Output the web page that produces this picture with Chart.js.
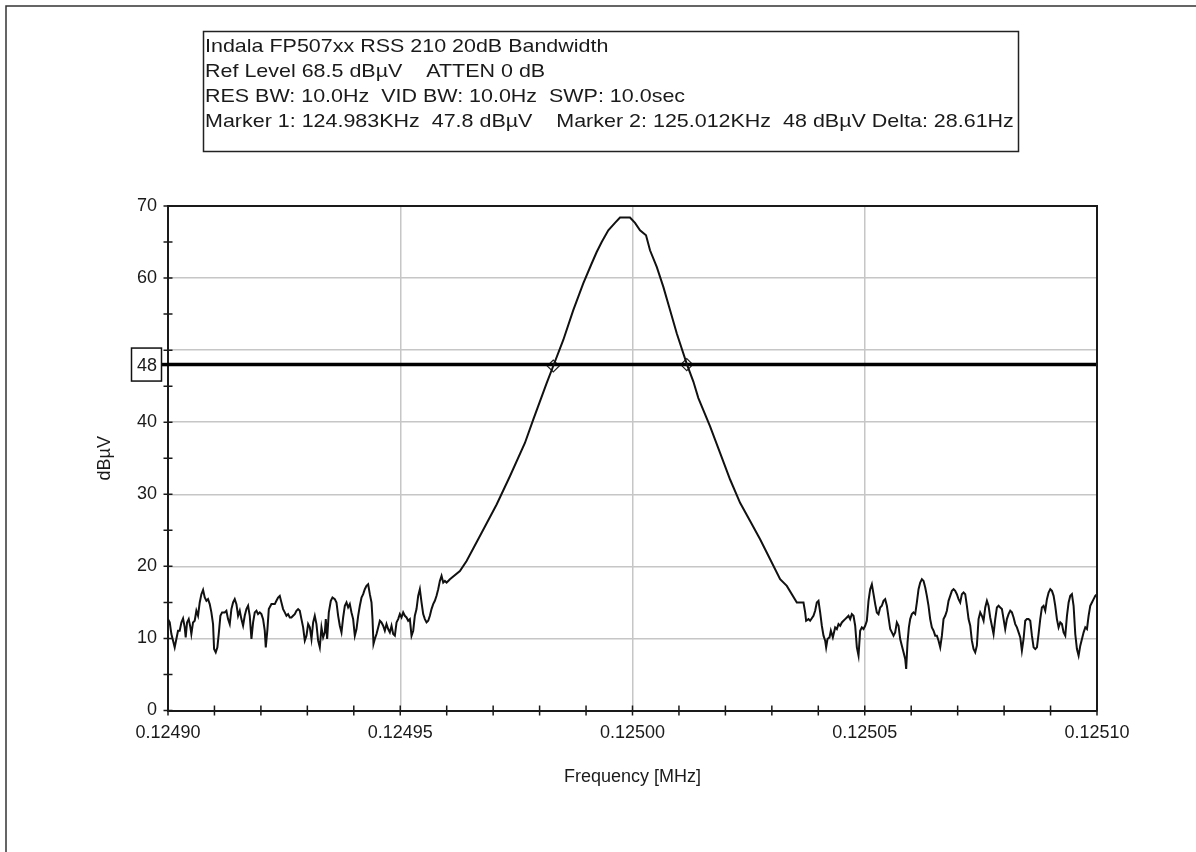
<!DOCTYPE html>
<html><head><meta charset="utf-8">
<script src="https://cdn.jsdelivr.net/npm/chart.js@4.4.1/dist/chart.umd.min.js"></script>
<style>html,body{margin:0;padding:0;background:#fff;}#wrap{position:relative;width:1196px;height:852px;}</style>
</head><body><div id="wrap"><canvas id="c" width="1196" height="852"></canvas></div>
<script>
const startHz = 124900;
const titleLines = [
  "Indala FP507xx RSS 210 20dB Bandwidth",
  "Ref Level 68.5 dB\u00b5V    ATTEN 0 dB",
  "RES BW: 10.0Hz  VID BW: 10.0Hz  SWP: 10.0sec",
  "Marker 1: 124.983KHz  47.8 dB\u00b5V    Marker 2: 125.012KHz  48 dB\u00b5V Delta: 28.61Hz"
];
const xAxisTitle = "Frequency [MHz]";
const yAxisTitle = "dB\u00b5V";
const xLabelTicksHz = [0, 50, 100, 150, 200];
const yLabelTicks = [0, 10, 20, 30, 40, 60, 70];
const refLevelDb = 48;
const refLabel = "48";
const markerHz = [82.94, 111.68];
const markerDb = [47.8, 48.0];

const sweepHz = [0,0.37,0.73,1.09,1.44,1.8,2.16,2.52,2.88,3.24,3.6,3.81,4.1,4.46,4.82,5.03,5.39,5.75,6.11,6.47,6.83,7.19,7.55,7.91,8.27,8.62,8.98,9.34,9.7,9.92,10.28,10.63,10.92,11.28,11.64,12.21,12.57,12.93,13.29,13.65,14.01,14.37,14.73,15.09,15.45,15.8,16.16,16.52,16.88,17.24,17.6,17.96,18.32,18.68,19.04,19.39,19.75,20.11,20.47,20.83,21.05,21.41,21.7,22.27,22.63,22.99,23.34,23.7,24.06,24.42,24.78,25.14,25.5,25.86,26.22,26.57,26.93,27.29,27.65,28.01,28.37,28.73,29.09,29.45,29.81,30.17,
30.53,30.89,31.25,31.6,31.96,32.32,32.68,33.04,33.4,33.76,33.97,34.26,34.62,35.05,35.41,35.91,36.27,36.63,36.99,37.35,37.71,38.07,38.43,38.78,39.14,39.5,39.86,40.22,40.58,40.94,41.3,41.66,42.02,42.37,42.73,43.09,43.45,43.81,44.03,44.24,44.53,44.89,45.25,45.61,45.96,46.32,46.68,47.04,47.4,47.76,48.12,48.48,48.84,49.2,49.55,49.91,50.27,50.63,50.99,51.35,51.71,52.07,52.43,52.79,53.14,53.5,53.86,54.22,54.58,54.94,55.3,55.66,56.02,56.38,56.73,57.09,57.45,57.81,58.17,58.53,58.89,59.25,59.61,59.97,60.33,60.69,
62.84,64.28,67.15,70.75,73.61,76.84,78.63,81.52,82.94,85.1,87.25,89.4,91.21,92.29,93.37,94.79,96.23,97.31,99.46,100.54,101.62,102.91,103.77,105.22,106.64,108.08,109.52,111.68,113.1,114.18,116.7,118.85,121.01,123.16,125.32,127.47,129.63,131.78,133.22,135.38,
136.09,136.81,137.17,137.38,137.89,138.24,138.96,139.32,139.68,140.04,140.4,140.76,141.12,141.48,141.69,141.98,142.41,142.7,143.13,143.63,143.99,144.35,144.71,145.07,145.42,145.78,146.14,146.5,146.86,147.22,147.58,147.94,148.3,148.66,149.01,149.37,149.73,150.09,150.45,150.81,151.17,151.53,151.89,152.25,152.6,152.96,153.32,153.68,154.04,154.4,154.76,155.12,155.48,155.84,156.19,156.55,156.91,157.27,157.63,157.99,158.35,158.71,158.92,159.21,159.5,159.78,160.14,160.5,160.86,161.22,161.58,161.94,162.3,162.66,163.02,163.37,163.73,164.09,164.45,164.81,165.17,165.53,165.89,166.25,166.61,166.96,167.32,
167.68,168.04,168.4,168.76,169.12,169.47,169.83,170.19,170.55,170.91,171.27,171.63,171.99,172.35,172.71,173.06,173.42,173.78,174.14,174.5,174.86,175.22,175.58,175.94,176.3,176.65,177.01,177.37,177.73,178.09,178.45,178.81,179.17,179.53,179.89,180.24,180.6,180.96,181.32,181.68,182.04,182.4,182.76,183.12,183.48,183.83,184.19,184.55,184.91,185.27,185.63,185.99,186.35,186.71,187.07,187.42,187.78,188.14,188.5,188.86,189.22,189.58,189.94,190.3,190.66,191.01,191.37,191.73,192.09,192.45,192.81,193.17,193.53,193.89,194.25,194.6,194.96,195.32,195.68,196.04,196.4,196.76,197.12,197.48,197.84,198.19,198.55,198.91,199.27,199.63,200];

const levelDb = [12.68,12.22,10.61,9.69,8.76,9.92,11.07,11.07,12.22,12.77,11.53,10.15,12.22,12.68,11.53,10.61,12.22,12.45,13.84,13.14,14.99,16.14,16.74,15.68,15.22,15.45,14.76,13.61,11.99,8.53,8.07,8.76,10.61,13.14,13.61,13.61,13.84,12.68,11.99,14.07,14.99,15.45,14.76,13.14,13.84,12.68,11.76,13.14,14.07,14.53,13.14,9.92,12.22,13.61,13.84,13.37,13.61,13.37,12.68,11.07,8.76,11.3,14.07,14.76,14.76,14.76,15.22,15.68,15.91,14.99,14.07,13.61,13.14,13.37,12.91,12.91,13.14,13.37,13.84,14.07,13.84,12.68,11.53,9.69,10.38,11.99,
11.53,9.92,12.22,13.14,11.99,9.69,8.76,11.53,10.15,10.84,12.68,9.92,13.61,15.22,15.68,15.45,14.99,13.14,11.76,10.84,12.91,14.53,14.99,14.3,14.76,13.61,12.68,10.38,11.3,13.14,14.53,15.68,16.14,16.83,17.29,17.52,16.14,14.99,12.68,9.23,9.92,10.61,11.53,12.45,12.22,11.76,11.07,11.99,11.3,10.84,11.76,10.61,10.38,12.22,12.68,13.37,12.91,13.61,13.14,12.91,12.45,12.68,10.38,11.07,13.14,14.07,15.91,16.83,14.99,13.37,12.68,12.22,12.45,13.14,14.07,14.76,15.22,15.91,16.83,17.98,18.68,17.75,17.98,17.75,17.98,18.22,
19.36,20.75,24.2,28.59,32.5,37.12,40.35,45.42,47.8,51.41,55.56,59.25,62.02,63.62,65.01,66.62,67.65,68.4,68.4,67.65,66.62,65.93,63.86,61.55,58.78,55.56,52.34,48.1,45.64,43.35,39.42,35.74,32.05,28.82,26.28,23.75,20.98,18.22,17.29,14.99,
14.99,14.99,13.61,12.45,12.68,12.45,13.14,13.84,14.99,15.22,13.61,11.76,10.38,9.69,8.76,9.92,10.15,11.07,10.15,11.53,11.3,11.99,11.76,12.22,12.45,12.68,12.91,13.14,12.68,13.37,13.14,11.76,8.76,7.61,11.07,11.53,11.3,11.76,12.45,15.22,16.83,17.52,16.14,14.76,13.61,13.37,14.3,14.53,15.22,15.45,14.53,12.91,11.3,10.84,10.38,10.84,12.22,11.76,9.92,8.99,8.07,7.15,5.77,9.46,11.53,12.68,13.37,13.61,13.37,14.99,16.83,17.75,18.22,17.98,17.06,15.91,14.53,12.68,11.53,11.07,10.38,10.38,9.69,8.76,10.38,12.68,13.14,
13.84,15.22,15.91,16.6,16.83,16.6,16.14,15.45,14.99,16.14,16.37,16.14,14.53,12.68,11.76,9.69,8.53,8.07,8.99,12.68,13.61,13.14,12.45,14.3,15.22,14.53,12.91,11.76,10.61,12.68,14.3,14.53,14.3,14.07,12.68,11.3,12.68,13.37,13.84,13.61,12.91,11.99,11.53,10.84,10.15,8.3,9.92,12.45,12.68,12.68,12.45,10.38,8.76,8.53,8.76,10.61,12.68,14.3,14.53,13.84,15.45,16.37,16.83,16.6,15.91,14.53,12.68,11.53,12.22,11.99,10.84,10.38,13.14,14.99,15.91,16.14,14.53,10.61,8.53,7.61,8.99,9.92,10.84,11.53,11.3,13.14,14.53,14.99,15.45,15.91,16.14];

const FONT = '"Liberation Sans", Arial, sans-serif';
const n = Math.min(sweepHz.length, levelDb.length);
const trace = [];
for (let i = 0; i < n; i++) trace.push({x: sweepHz[i], y: levelDb[i]});
const refLine = [{x: 0, y: refLevelDb}, {x: 200, y: refLevelDb}];
const markers = markerHz.map((f, i) => ({x: f, y: markerDb[i]}));

const decor = {
  id: 'decor',
  afterDraw(chart) {
    const ctx = chart.ctx, a = chart.chartArea;
    const xs = chart.scales.x, ys = chart.scales.y;
    ctx.save();
    // outer frame
    ctx.strokeStyle = '#333'; ctx.lineWidth = 1.5;
    ctx.beginPath(); ctx.moveTo(6, 852); ctx.lineTo(6, 6); ctx.lineTo(1196, 6); ctx.stroke();
    // plot frame top/right
    ctx.strokeStyle = '#1a1a1a'; ctx.lineWidth = 2;
    ctx.beginPath(); ctx.moveTo(a.left, a.top); ctx.lineTo(a.right, a.top); ctx.lineTo(a.right, a.bottom); ctx.stroke();
    // crossing ticks
    ctx.lineWidth = 1.5;
    ctx.beginPath();
    for (let v = 0; v <= 70; v += 5) {
      const y = ys.getPixelForValue(v);
      ctx.moveTo(a.left - 4.5, y); ctx.lineTo(a.left + 4.5, y);
    }
    for (let v = 0; v <= 200; v += 10) {
      const x = xs.getPixelForValue(v);
      ctx.moveTo(x, a.bottom - 5); ctx.lineTo(x, a.bottom + 5);
    }
    ctx.stroke();
    // reference level box
    const ry = ys.getPixelForValue(refLevelDb);
    ctx.lineWidth = 3.5; ctx.strokeStyle = '#000';
    ctx.beginPath(); ctx.moveTo(161.5, ry); ctx.lineTo(a.left, ry); ctx.stroke();
    ctx.fillStyle = '#fff';
    ctx.fillRect(131.5, ry - 16.5, 30, 33);
    ctx.lineWidth = 1.5; ctx.strokeStyle = '#111';
    ctx.strokeRect(131.5, ry - 16.5, 30, 33);
    ctx.fillStyle = '#1a1a1a';
    ctx.font = '18px ' + FONT; ctx.textAlign = 'center'; ctx.textBaseline = 'middle';
    ctx.fillText(refLabel, 147, ry + 1);
    // title box
    ctx.fillStyle = '#fff';
    ctx.fillRect(203, 31, 815, 120);
    ctx.strokeStyle = '#222'; ctx.lineWidth = 1.5;
    ctx.strokeRect(203.5, 31.5, 815, 120);
    ctx.fillStyle = '#1a1a1a';
    ctx.textAlign = 'left'; ctx.textBaseline = 'alphabetic';
    ctx.font = '19px ' + FONT;
    const base = [52, 77, 102, 127];
    titleLines.forEach((t, i) => {
      ctx.save();
      ctx.translate(205, base[i]);
      ctx.scale(1.13, 1);
      ctx.fillText(t, 0, 0);
      ctx.restore();
    });
    // axis titles
    ctx.font = '18px ' + FONT; ctx.textAlign = 'center'; ctx.textBaseline = 'middle';
    ctx.fillText(xAxisTitle, (a.left + a.right) / 2, 777);
    ctx.save();
    ctx.translate(105, (a.top + a.bottom) / 2);
    ctx.rotate(-Math.PI / 2);
    ctx.fillText(yAxisTitle, 0, 0);
    ctx.restore();
    ctx.restore();
  }
};

new Chart(document.getElementById('c'), {
  type: 'line',
  data: {
    datasets: [
      {data: trace, borderColor: '#111', borderWidth: 2, pointRadius: 0, tension: 0, fill: false},
      {data: refLine, borderColor: '#000', borderWidth: 3.5, pointRadius: 0, fill: false},
      {data: markers, showLine: false, pointStyle: 'rectRot', pointRadius: 6, pointBorderWidth: 1.2,
       pointBorderColor: '#222', pointBackgroundColor: 'rgba(0,0,0,0)'}
    ]
  },
  options: {
    responsive: false, animation: false, devicePixelRatio: 1,
    layout: {padding: {left: 100, right: 99, top: 206, bottom: 100}},
    plugins: {legend: {display: false}, tooltip: {enabled: false}},
    scales: {
      x: {
        type: 'linear', min: 0, max: 200,
        afterFit: s => { s.height = 41.5; },
        ticks: {stepSize: 10, autoSkip: false, maxRotation: 0, padding: 12, color: '#1a1a1a',
          font: {family: FONT, size: 18},
          callback: v => xLabelTicksHz.includes(Math.round(v)) ? ((startHz + Math.round(v)) / 1e6).toFixed(5) : ''},
        grid: {drawTicks: false, lineWidth: 1.5,
          color: c => (c.tick && Math.round(c.tick.value) % 50 === 0) ? '#c6c6c6' : 'rgba(0,0,0,0)'},
        border: {display: true, color: '#1a1a1a', width: 2}
      },
      y: {
        min: 0, max: 70,
        afterFit: s => { s.width = 68; },
        ticks: {stepSize: 5, autoSkip: false, padding: 11, color: '#1a1a1a',
          font: {family: FONT, size: 18},
          callback: v => yLabelTicks.includes(Math.round(v)) ? String(Math.round(v)) : ''},
        grid: {drawTicks: false, lineWidth: 1.5,
          color: c => (c.tick && Math.round(c.tick.value) % 10 === 0) ? '#c6c6c6' : 'rgba(0,0,0,0)'},
        border: {display: true, color: '#1a1a1a', width: 2}
      }
    }
  },
  plugins: [decor]
});
</script>
</body></html>
